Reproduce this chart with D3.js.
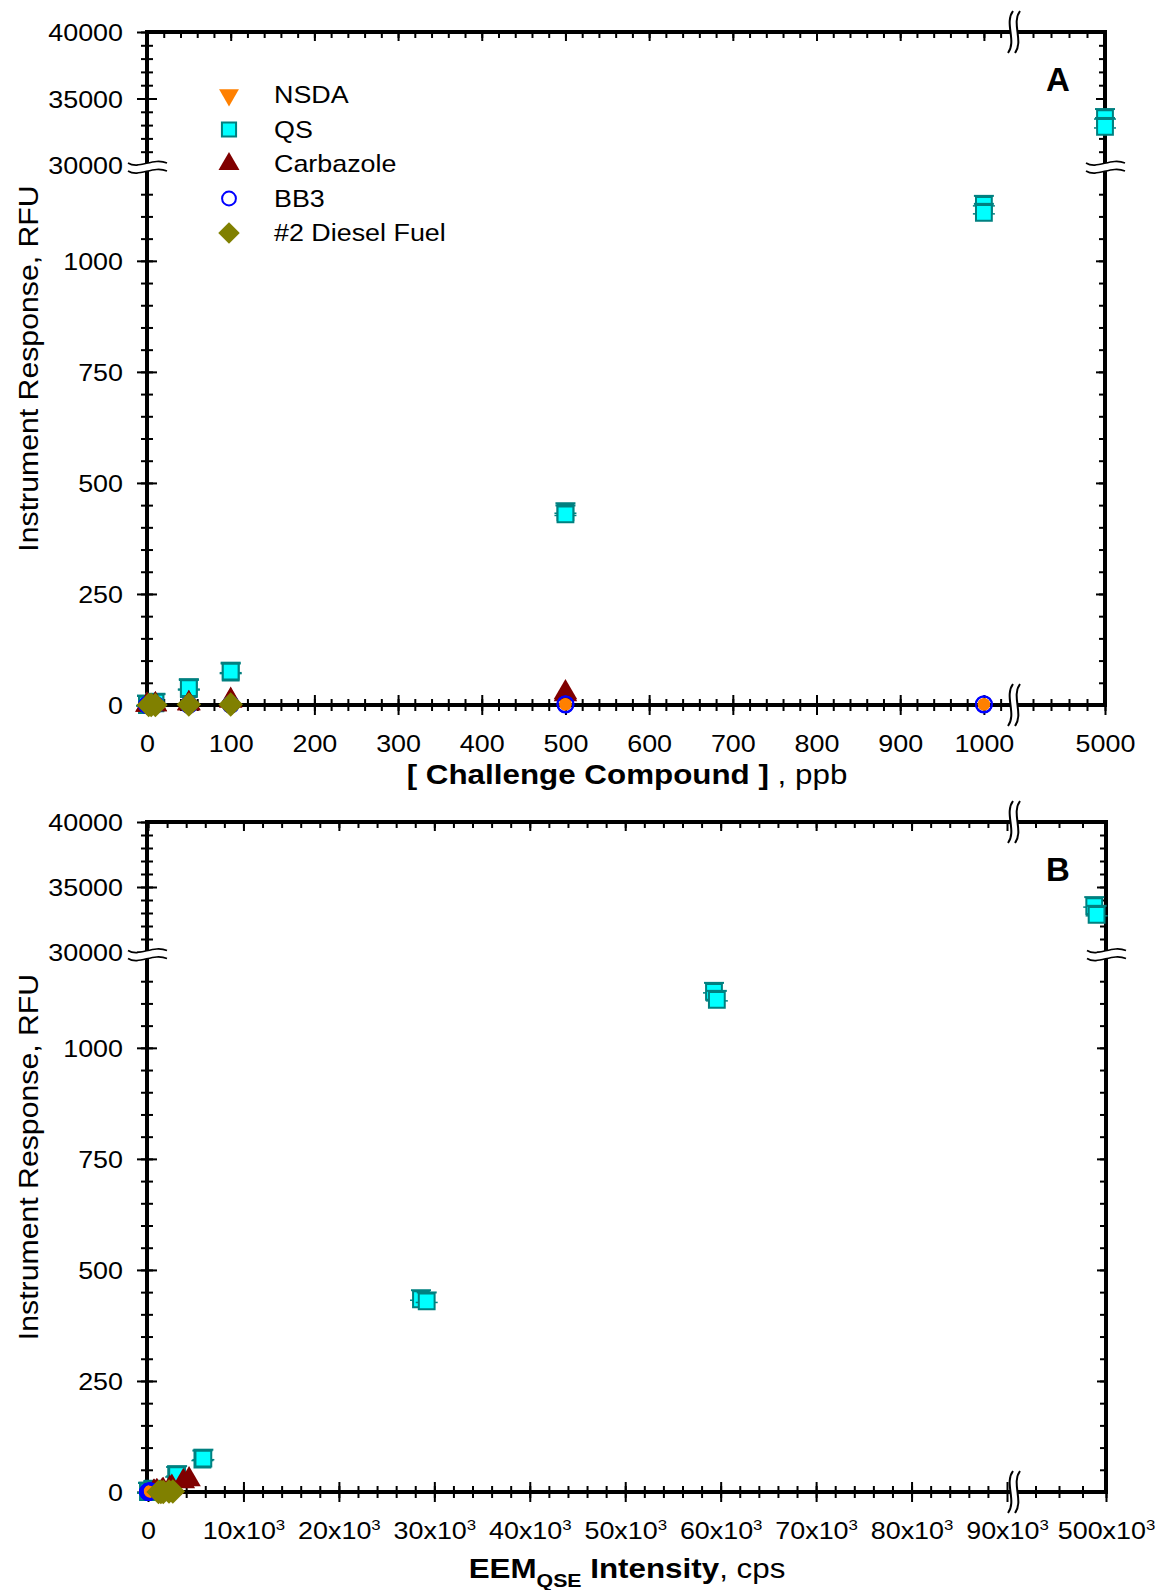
<!DOCTYPE html>
<meta charset="utf-8">
<style>
  body { margin: 0; background: #fff; }
  svg text { font-family: "Liberation Sans", Arial, sans-serif; fill: #000; }
</style>
<svg width="1161" height="1590"></svg>
<script src="https://d3js.org/d3.v7.min.js"></script>
<script>
// ---------------------------------------------------------------- data
// concentration (ppb), instrument response (RFU), EEM QSE intensity (cps)
var nsdaPpb = [0, 0, 10, 10, 50, 50, 100, 100, 500, 500, 1000, 1000];
var nsdaRfu = [0, 1, 0, 1, 1, 0, 1, 2, 1, 2, 1, 2];
var nsdaCps = [0, 20, 60, 70, 150, 170, 250, 270, 380, 420, 480, 520];

var qsPpb = [0, 0, 10, 10, 50, 50, 100, 100, 500, 500, 1000, 1000, 5000, 5000];
var qsRfu = [0, 1, 4, 5, 36, 38, 73, 75, 434, 429, 1126, 1108, 33530, 32860];
var qsCps = [0, 40, 550, 620, 2950, 3050, 5700, 5800, 28600, 29200, 59300, 59600, 499500, 499600];

var carbPpb = [0, 0, 10, 10, 50, 50, 100, 100, 500, 500];
var carbRfu = [0, 0, 1, 1, 3, 4, 9, 11, 24, 28];
var carbCps = [600, 650, 900, 950, 1500, 1600, 2300, 2500, 3700, 4300];

var bb3Ppb = [0, 0, 10, 10, 50, 50, 100, 100, 500, 500, 1000, 1000];
var bb3Rfu = [0, 0, 0, 1, 0, 1, 1, 1, 1, 2, 1, 2];
var bb3Cps = [0, 10, 20, 30, 60, 70, 110, 120, 180, 200, 260, 280];

var dieselPpb = [2, 5, 10, 50, 100];
var dieselRfu = [0, 0, 0, 1, 1];
var dieselCps = [1100, 1350, 1600, 2200, 2600];

var seriesNames = ["NSDA", "QS", "Carbazole", "BB3", "#2 Diesel Fuel"];

// tick labels
var xTicksA = [0, 100, 200, 300, 400, 500, 600, 700, 800, 900, 1000, 5000];
var xTicksB = [0, 10000, 20000, 30000, 40000, 50000, 60000, 70000, 80000, 90000, 500000];
var yTicks = [0, 250, 500, 750, 1000, 30000, 35000, 40000];

// ---------------------------------------------------------------- helpers
var SX = 1.12;  // glyphs in the reference run a little wide

var svg = d3.select("svg");

function segScale(segs) {
  var sc = segs.map(function(s) { return d3.scaleLinear().domain(s.d).range(s.r); });
  var f = function(v) {
    for (var i = 0; i < segs.length; i++) {
      if (v <= segs[i].d[1] || i == segs.length - 1) return sc[i](v);
    }
  };
  f.parts = sc;
  return f;
}

function txt(g, x, y, size, anchor, weight, sx, rot) {
  return g.append("text")
    .attr("transform", "translate(" + x + "," + y + ")" + (rot ? " rotate(" + rot + ")" : "") + " scale(" + (sx || SX) + ",1)")
    .attr("text-anchor", anchor)
    .style("font-size", size + "px")
    .style("font-weight", weight || "normal");
}

function fmtB(t, d) {
  if (d == 0) { t.text("0"); return; }
  t.append("tspan").text((d / 1000) + "x10");
  t.append("tspan").attr("dy", -9).style("font-size", "15px").text("3");
}

function xTicks(g, sc, yPos, vals, len, inward, labels, fmt) {
  var a = g.append("g").attr("transform", "translate(0," + yPos + ")")
    .call(d3.axisBottom(sc).tickValues(vals).tickSize(len).tickSizeOuter(0));
  a.attr("font-size", null).attr("font-family", null);
  a.select(".domain").remove();
  a.selectAll(".tick line").attr("y1", inward ? 0 : -len).attr("y2", len)
    .attr("stroke", "#000").attr("stroke-width", 2);
  a.selectAll(".tick text").each(function(d) {
    var t = d3.select(this);
    if (!labels || labels.indexOf(d) < 0) { t.remove(); return; }
    t.text(null).attr("y", 47).attr("dy", null).attr("fill", "#000")
      .attr("transform", "scale(" + SX + ",1)").style("font-size", "24px");
    fmt(t, d);
  });
}

function yTicksDraw(g, sc, xPos, vals, len, side, labels) {
  var a = g.append("g").attr("transform", "translate(" + xPos + ",0)")
    .call(d3.axisLeft(sc).tickValues(vals).tickSize(len).tickSizeOuter(0));
  a.attr("font-size", null).attr("font-family", null);
  a.select(".domain").remove();
  a.selectAll(".tick line")
    .attr("x1", side == "left" ? -len : 0).attr("x2", side == "left" ? len : -len)
    .attr("stroke", "#000").attr("stroke-width", 2);
  a.selectAll(".tick text").each(function(d) {
    var t = d3.select(this);
    if (!labels || labels.indexOf(d) < 0) { t.remove(); return; }
    t.attr("x", -24 / SX).attr("dy", "0.36em").attr("fill", "#000")
      .attr("transform", "scale(" + SX + ",1)").style("font-size", "24px").text(d);
  });
}

// wavy break marks
function breakOnX(g, x, y) {
  var wave = function(dx) {
    return "M" + (x + dx + 3) + "," + (y - 21) + " C" + (x + dx - 6) + "," + (y - 9) + " " +
      (x + dx + 7) + "," + (y + 9) + " " + (x + dx - 2) + "," + (y + 21);
  };
  g.append("path").attr("d", wave(3.5)).attr("fill", "none").attr("stroke", "#fff").attr("stroke-width", 7);
  g.append("path").attr("d", wave(0)).attr("fill", "none").attr("stroke", "#000").attr("stroke-width", 2);
  g.append("path").attr("d", wave(7)).attr("fill", "none").attr("stroke", "#000").attr("stroke-width", 2);
}

function breakOnY(g, x, y) {
  var wave = function(dy) {
    return "M" + (x - 19) + "," + (y + dy - 1) + " C" + (x - 8) + "," + (y + dy + 6) + " " +
      (x + 6) + "," + (y + dy - 7) + " " + (x + 20) + "," + (y + dy - 1);
  };
  g.append("path").attr("d", wave(0)).attr("fill", "none").attr("stroke", "#fff").attr("stroke-width", 8);
  g.append("path").attr("d", wave(-4)).attr("fill", "none").attr("stroke", "#000").attr("stroke-width", 1.6);
  g.append("path").attr("d", wave(4)).attr("fill", "none").attr("stroke", "#000").attr("stroke-width", 1.6);
}

// ---------------------------------------------------------------- panels
var panels = [
  {
    name: "A", top: 32, bottom: 705, left: 147, right: 1105,
    xSegs: [{ d: [0, 1030], r: [147, 1009] }, { d: [4900, 5000], r: [1015, 1105] }], xBreak: 1010,
    ySegs: [{ d: [0, 1200], r: [705, 172] }, { d: [30000, 40000], r: [165, 32] }], yBreak: 168,
    xMinor: [d3.range(0, 1021, 20), d3.range(4920, 5001, 20)],
    xMajor: [d3.range(0, 1001, 100), [5000]],
    xLabels: xTicksA, xFmt: function(t, d) { t.text(d); },
    xKey: "ppb", legend: true
  },
  {
    name: "B", top: 822, bottom: 1492, left: 147, right: 1106,
    xSegs: [{ d: [0, 90000], r: [148, 1007] }, { d: [496000, 500000], r: [1012, 1106] }], xBreak: 1010,
    ySegs: [{ d: [0, 1200], r: [1492, 959] }, { d: [30000, 40000], r: [952, 822] }], yBreak: 955.5,
    xMinor: [d3.range(0, 88001, 2000), d3.range(497000, 500001, 1000)],
    xMajor: [d3.range(0, 90001, 10000), [500000]],
    xLabels: xTicksB, xFmt: fmtB,
    xKey: "cps", legend: false
  }
];

var yMinor = [d3.range(0, 1151, 50), d3.range(31000, 40001, 1000)];
var yMajor = [[0, 250, 500, 750, 1000], [30000, 35000, 40000]];

function pts(ppb, rfu, cps) {
  return rfu.map(function(v, i) { return { ppb: ppb[i], cps: cps[i], rfu: v }; });
}

var series = [
  { name: seriesNames[1], data: pts(qsPpb, qsRfu, qsCps), type: "qs" },
  { name: seriesNames[2], data: pts(carbPpb, carbRfu, carbCps), type: "carb" },
  { name: seriesNames[0], data: pts(nsdaPpb, nsdaRfu, nsdaCps), type: "nsda" },
  { name: seriesNames[3], data: pts(bb3Ppb, bb3Rfu, bb3Cps), type: "bb3" },
  { name: seriesNames[4], data: pts(dieselPpb, dieselRfu, dieselCps), type: "diesel" }
];

var sym = {
  nsda: d3.symbol().type(d3.symbolCircle).size(120),
  nsdaLeg: d3.symbol().type(d3.symbolTriangle).size(170),
  qs: d3.symbol().type(d3.symbolSquare).size(250),
  qsLeg: d3.symbol().type(d3.symbolSquare).size(200),
  carb: d3.symbol().type(d3.symbolTriangle).size(240),
  carbLeg: d3.symbol().type(d3.symbolTriangle).size(190),
  bb3: d3.symbol().type(d3.symbolCircle).size(200),
  bb3Leg: d3.symbol().type(d3.symbolCircle).size(150),
  diesel: d3.symbol().type(d3.symbolSquare).size(300),
  dieselLeg: d3.symbol().type(d3.symbolSquare).size(230)
};

function marker(g, type, x, y, legend) {
  var tr = "translate(" + x + "," + y + ")";
  if (type == "nsda") {
    if (legend) {
      g.append("path").attr("d", sym.nsdaLeg()).attr("transform", tr + " rotate(180)").attr("fill", "#ff8000");
    } else {
      g.append("path").attr("d", sym.nsda()).attr("transform", tr).attr("fill", "#ff8000");
    }
  } else if (type == "qs") {
    if (!legend) {
      g.append("line").attr("x1", x - 10).attr("x2", x + 10).attr("y1", y - 9).attr("y2", y - 9)
        .attr("stroke", "#008080").attr("stroke-width", 2);
      g.append("line").attr("x1", x - 11).attr("x2", x + 11).attr("y1", y + 1).attr("y2", y + 1)
        .attr("stroke", "#008080").attr("stroke-width", 1.5);
    }
    g.append("path").attr("d", (legend ? sym.qsLeg : sym.qs)()).attr("transform", tr)
      .attr("fill", "#00ffff").attr("stroke", "#008080").attr("stroke-width", 2);
  } else if (type == "carb") {
    g.append("path").attr("d", (legend ? sym.carbLeg : sym.carb)()).attr("transform", tr).attr("fill", "#800000");
  } else if (type == "bb3") {
    g.append("path").attr("d", (legend ? sym.bb3Leg : sym.bb3)()).attr("transform", tr)
      .attr("fill", "none").attr("stroke", "#0000ff").attr("stroke-width", 2);
  } else {
    g.append("path").attr("d", (legend ? sym.dieselLeg : sym.diesel)()).attr("transform", tr + " rotate(45)").attr("fill", "#808000");
  }
}

panels.forEach(function(p) {
  var g = svg.append("g");
  var x = segScale(p.xSegs), y = segScale(p.ySegs);

  // ticks: bottom (crossing, labelled), top (inward)
  x.parts.forEach(function(sc, i) {
    xTicks(g, sc, p.bottom, p.xMinor[i], 6, false);
    xTicks(g, sc, p.bottom, p.xMajor[i], 10, false, p.xLabels, p.xFmt);
    xTicks(g, sc, p.top, p.xMinor[i], 6, true);
    xTicks(g, sc, p.top, p.xMajor[i], 9, true);
  });
  y.parts.forEach(function(sc, i) {
    yTicksDraw(g, sc, p.left, yMinor[i], 6, "left");
    yTicksDraw(g, sc, p.left, yMajor[i], 10, "left", yTicks);
    yTicksDraw(g, sc, p.right, yMinor[i], 6, "right");
    yTicksDraw(g, sc, p.right, yMajor[i], 9, "right");
  });

  // frame
  g.append("rect").attr("x", p.left).attr("y", p.top)
    .attr("width", p.right - p.left).attr("height", p.bottom - p.top)
    .attr("fill", "none").attr("stroke", "#000").attr("stroke-width", 4);

  // axis breaks
  breakOnX(g, p.xBreak, p.top);
  breakOnX(g, p.xBreak, p.bottom);
  breakOnY(g, p.left, p.yBreak);
  breakOnY(g, p.right, p.yBreak);

  // data
  series.forEach(function(s) {
    var ms = g.append("g");
    s.data.forEach(function(d) {
      marker(ms, s.type, x(d[p.xKey]), y(d.rfu), false);
    });
  });

  // panel letter
  txt(g, 1058, p.top + 59, 33, "middle", "bold", 1).text(p.name);

  // y title
  txt(g, 38, (p.top + p.bottom) / 2, 27, "middle", "normal", SX, -90).text("Instrument Response, RFU");

  // legend
  if (p.legend) {
    var order = ["nsda", "qs", "carb", "bb3", "diesel"];
    order.forEach(function(t, i) {
      var ly = 95 + i * 34.5;
      marker(g, t, 229, ly, true);
      txt(g, 274, ly + 8, 24, "start").text(seriesNames[i]);
    });
  }
});

// x titles
var tA = txt(svg, 627, 784, 28, "middle");
tA.append("tspan").style("font-weight", "bold").text("[ Challenge Compound ]");
tA.append("tspan").text(" , ppb");

var tB = txt(svg, 627, 1578, 28, "middle");
tB.append("tspan").style("font-weight", "bold").text("EEM");
tB.append("tspan").style("font-weight", "bold").style("font-size", "19px").attr("dy", 9).text("QSE");
tB.append("tspan").style("font-weight", "bold").attr("dy", -9).text(" Intensity");
tB.append("tspan").text(", cps");
</script>
